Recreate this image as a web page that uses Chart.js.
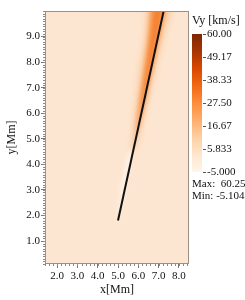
<!DOCTYPE html>
<html><head><meta charset="utf-8">
<script src="https://cdn.jsdelivr.net/npm/chart.js@4.4.1/dist/chart.umd.min.js"></script>
<style>html,body{margin:0;padding:0;background:#fff}#wrap{width:245px;height:300px}</style>
</head><body><div id="wrap"><canvas id="c" width="245" height="300"></canvas></div>
<script>
// ---- data ----
const xTicks = [2.0, 3.0, 4.0, 5.0, 6.0, 7.0, 8.0];
const yTicks = [1.0, 2.0, 3.0, 4.0, 5.0, 6.0, 7.0, 8.0, 9.0];
const xRange = [1.4, 8.5];
const yRange = [0.1, 10.0];

// black line (track)
const trackX = [5.0, 7.25];
const trackY = [1.8, 10.0];

// glow bands: left edge (bottom->top) then right edge (top->bottom)
const outerY = [4.3, 5.5, 6.5, 7.7, 8.5, 9.3, 10.3, 10.3, 9.3, 8.5, 7.7, 6.5, 5.5, 4.3];
const outerX = [5.66, 5.86, 5.98, 6.13, 6.31, 6.44, 6.50, 7.65, 7.30, 7.00, 6.75, 6.38, 6.05, 5.70];
const midY = [4.6, 5.6, 6.6, 7.6, 8.8, 10.3, 10.3, 8.8, 7.6, 6.6, 5.6, 4.6];
const midX = [5.74, 5.91, 6.08, 6.28, 6.47, 6.62, 7.40, 6.98, 6.64, 6.36, 6.06, 5.78];
const coreY = [5.3, 6.3, 7.3, 8.3, 9.3, 10.3, 10.3, 9.3, 8.3, 7.3, 6.3, 5.3];
const coreX = [5.93, 6.15, 6.31, 6.50, 6.67, 6.80, 7.24, 7.02, 6.76, 6.49, 6.22, 5.95];
// pale streak left of the track tail
const paleY = [1.9, 3.0, 4.0, 4.6, 4.6, 4.0, 3.0, 1.9];
const paleX = [4.98, 5.12, 5.36, 5.58, 5.74, 5.58, 5.31, 5.02];

// colour bar
const cbMin = -5.0, cbMax = 60.0;
const cbTicks = [60.00, 49.17, 38.33, 27.50, 16.67, 5.833, -5.000];
const cbLabels = ["60.00", "49.17", "38.33", "27.50", "16.67", "5.833", "-5.000"];
const cbTitle = "Vy [km/s]";
const statLabels = ["Max:  60.25", "Min: -5.104"];

// ---- styles ----
const BG = '#fde6d1';
const FRAME = '#9c8f84';
const TXT = '#111';
const SERIF = '"Liberation Serif", "DejaVu Serif", serif';
const ORANGES = ['#fff5eb','#fee6ce','#fdd0a2','#fdae6b','#fd8d3c','#f16913','#d94801','#a63603','#7f2704'];

const pts = (xs, ys) => xs.map((x, i) => ({x, y: ys[i]}));

const bgPlugin = {
  id: 'bg',
  beforeDraw(chart) {
    const {ctx, chartArea: a} = chart;
    ctx.save(); ctx.fillStyle = BG; ctx.fillRect(a.left, a.top, a.right - a.left, a.bottom - a.top); ctx.restore();
  }
};
// fills a dataset's polygon (points placed by the chart's scales) with a soft blur
const glowPlugin = {
  id: 'glow',
  beforeDatasetDraw(chart, args) {
    const ds = chart.data.datasets[args.index];
    if (!ds.glow) return;
    const {ctx, chartArea: a} = chart;
    const els = args.meta.data;
    ctx.save();
    ctx.beginPath(); ctx.rect(a.left, a.top, a.right - a.left, a.bottom - a.top); ctx.clip();
    ctx.filter = 'blur(' + ds.blur + 'px)';
    ctx.fillStyle = ds.glow;
    ctx.beginPath();
    els.forEach((p, i) => { if (i === 0) ctx.moveTo(p.x, p.y); else ctx.lineTo(p.x, p.y); });
    ctx.closePath();
    ctx.fill();
    ctx.restore();
  }
};
const framePlugin = {
  id: 'frame',
  afterDraw(chart) {
    const {ctx, chartArea: a, scales} = chart;
    ctx.save();
    ctx.strokeStyle = FRAME; ctx.lineWidth = 1;
    ctx.strokeRect(Math.round(a.left) + 0.5, Math.round(a.top) + 0.5, Math.round(a.right - a.left) - 1, Math.round(a.bottom - a.top) - 1);
    // minor ticks
    ctx.strokeStyle = '#8a8a8a';
    ctx.beginPath();
    const xs = scales.x, ys = scales.y;
    for (let v = Math.ceil(xRange[0] * 5) / 5; v <= xRange[1] + 1e-9; v += 0.2) {
      const p = Math.round(xs.getPixelForValue(v)) + 0.5;
      ctx.moveTo(p, a.bottom); ctx.lineTo(p, a.bottom + 2);
    }
    for (let v = Math.ceil(yRange[0] * 10) / 10; v <= yRange[1] + 1e-9; v += 0.1) {
      const p = Math.round(ys.getPixelForValue(v)) + 0.5;
      ctx.moveTo(a.left, p); ctx.lineTo(a.left - 2, p);
    }
    ctx.stroke();

    // colour bar
    const bx = 192, bw = 10, bt = 34, bb = 172;
    const g = ctx.createLinearGradient(0, bb, 0, bt);
    ORANGES.forEach((c, i) => g.addColorStop(i / (ORANGES.length - 1), c));
    ctx.fillStyle = g;
    ctx.fillRect(bx, bt, bw, bb - bt);
    ctx.fillStyle = TXT;
    ctx.font = '11px ' + SERIF;
    ctx.textBaseline = 'middle';
    ctx.textAlign = 'left';
    ctx.strokeStyle = '#555';
    ctx.beginPath();
    cbTicks.forEach((v, i) => {
      const y = bb - (v - cbMin) / (cbMax - cbMin) * (bb - bt);
      ctx.moveTo(bx + bw + 1, Math.round(y) + 0.5); ctx.lineTo(bx + bw + 4, Math.round(y) + 0.5);
      ctx.fillText(cbLabels[i], 207, y);
    });
    ctx.stroke();
    ctx.font = '12px ' + SERIF;
    ctx.fillText(cbTitle, 192, 21);
    ctx.font = '11px ' + SERIF;
    ctx.fillText(statLabels[0], 192, 184);
    ctx.fillText(statLabels[1], 192, 196);
    ctx.restore();
  }
};

const glowDs = (xs, ys, color, blur) => ({data: pts(xs, ys), showLine: false, pointRadius: 0, fill: false, glow: color, blur});

new Chart(document.getElementById('c'), {
  type: 'scatter',
  data: {
    datasets: [
      {data: pts(trackX, trackY), showLine: true, borderColor: '#111', borderWidth: 2, pointRadius: 0, fill: false},
      glowDs(coreX, coreY, 'rgba(243,125,45,0.85)', 2),
      glowDs(midX, midY, 'rgba(249,150,75,0.9)', 2.5),
      glowDs(outerX, outerY, 'rgba(252,190,135,0.85)', 4),
      glowDs(paleX, paleY, 'rgba(255,247,240,0.85)', 2)
    ]
  },
  options: {
    responsive: false,
    animation: false,
    events: [],
    layout: {padding: {left: 0, right: 56, top: 11, bottom: 0}},
    plugins: {legend: {display: false}, tooltip: {enabled: false}},
    scales: {
      x: {
        type: 'linear', min: xRange[0], max: xRange[1],
        afterBuildTicks: s => { s.ticks = xTicks.map(v => ({value: v})); },
        afterFit: s => { s.height = 36; },
        grid: {drawOnChartArea: false, tickLength: 4, tickColor: '#777'},
        border: {display: false},
        ticks: {color: TXT, font: {family: SERIF, size: 11}, padding: 2, maxRotation: 0, callback: v => Number(v).toFixed(1)},
        title: {display: true, text: 'x[Mm]', color: TXT, font: {family: SERIF, size: 12}, padding: {top: 0, bottom: 3}}
      },
      y: {
        type: 'linear', min: yRange[0], max: yRange[1],
        afterBuildTicks: s => { s.ticks = yTicks.map(v => ({value: v})); },
        afterFit: s => { s.width = 45; },
        grid: {drawOnChartArea: false, tickLength: 4, tickColor: '#777'},
        border: {display: false},
        ticks: {color: TXT, font: {family: SERIF, size: 11}, padding: 1, callback: v => Number(v).toFixed(1)},
        title: {display: true, text: 'y[Mm]', color: TXT, font: {family: SERIF, size: 12}, padding: {top: 5, bottom: 0}}
      }
    }
  },
  plugins: [bgPlugin, glowPlugin, framePlugin]
});
</script></body></html>
